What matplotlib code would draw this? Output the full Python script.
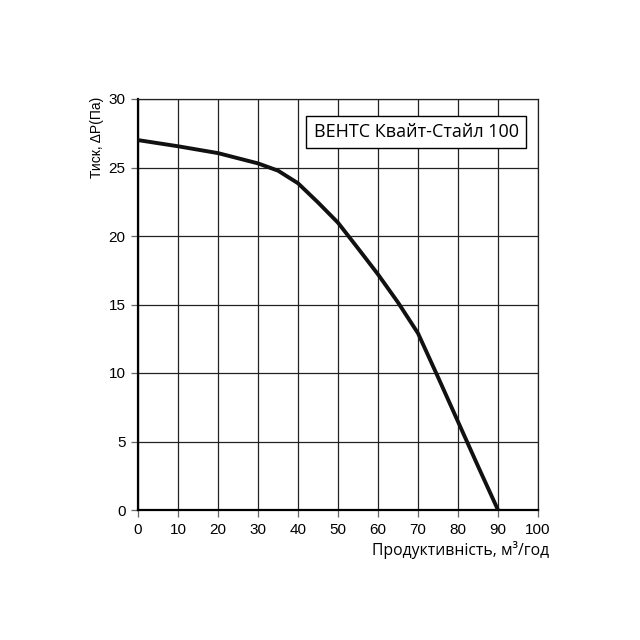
import matplotlib.pyplot as plt
import numpy as np

# fan curve
flow = [0, 10, 20, 30, 35, 40, 45, 50, 55, 60, 65, 70, 75, 80, 85, 90]
pressure = [27.0, 26.55, 26.05, 25.3, 24.77, 23.85, 22.45, 20.97, 19.1, 17.2,
            15.15, 12.9, 9.7, 6.45, 3.2, 0.0]
xticks = list(range(0, 101, 10))
yticks = list(range(0, 31, 5))
model_name = "ВЕНТС Квайт-Стайл 100"

fig = plt.figure(figsize=(6.4, 6.4), dpi=100)
ax = fig.add_axes([138/640, 130/640, 400/640, 411/640])

ax.plot(flow, pressure, color="#111111", lw=2.8, solid_capstyle="round",
        solid_joinstyle="round", zorder=3)

ax.set_xlim(0, 100)
ax.set_ylim(0, 30)
ax.set_xticks(xticks)
ax.set_yticks(yticks)
ax.grid(True, color="#222222", lw=0.9)
for s in ax.spines.values():
    s.set_color("#222222")
    s.set_linewidth(0.9)
ax.spines["left"].set_linewidth(1.6)
ax.spines["left"].set_color("black")
ax.spines["bottom"].set_linewidth(1.6)
ax.spines["bottom"].set_color("black")
ax.tick_params(direction="out", length=5, width=0.9, color="#666666",
               labelsize=11, pad=4)
for lab in ax.get_xticklabels() + ax.get_yticklabels():
    lab.set_family("Liberation Sans")

ax.text(0.695, 0.92, model_name, transform=ax.transAxes, ha="center", va="center",
        fontsize=13, family="Open Sans", zorder=5,
        bbox=dict(boxstyle="square,pad=0.4", fc="white", ec="black", lw=1))

fig.text(549/640, 1 - 550/640, "Продуктивність, м³/год", ha="right", va="center",
         fontsize=11.3, family="Open Sans")
fig.text(97/640, 1 - 97/640, "Тиск, ΔP(Па)", ha="center", va="top", rotation=90,
         fontsize=10, family="Liberation Sans")

fig.savefig("out.png", dpi=100)
